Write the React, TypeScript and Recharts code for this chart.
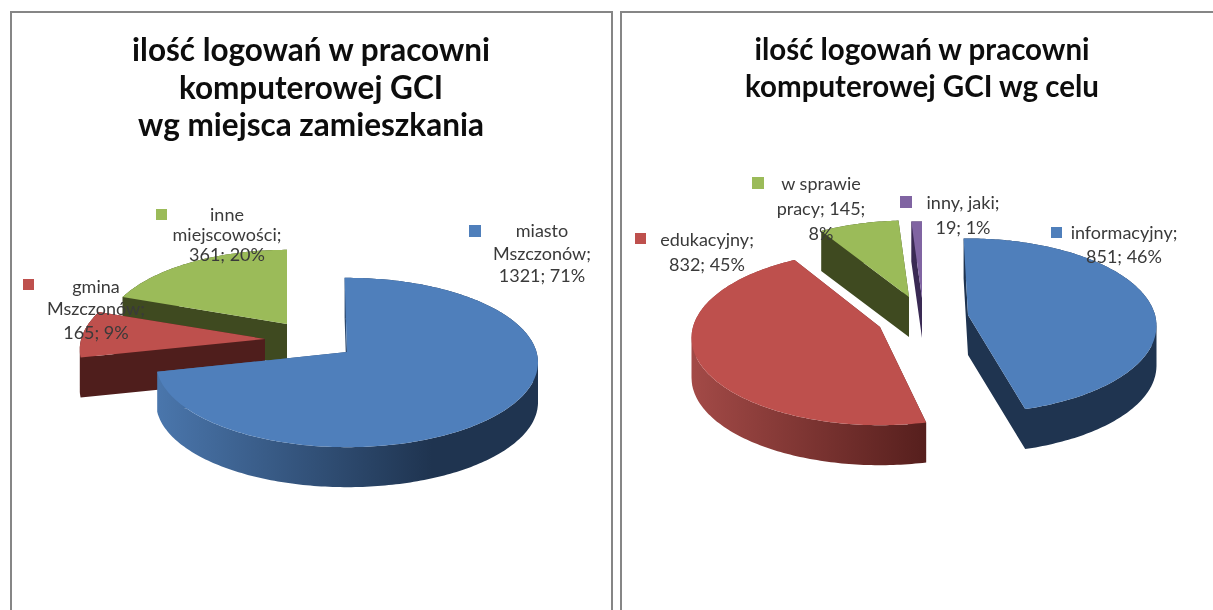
import { PieChart, Pie } from "recharts";

// both pies are drawn counter-clockwise from 12 o'clock so the back slices paint first
const miejsceNazwy = ["inne miejscowości", "gmina Mszczonów", "miasto Mszczonów"];
const miejsceWartosci = [361, 165, 1321];
const miejsceEtykiety = [
  ["inne", "miejscowości;", "361; 20%"],
  ["gmina", "Mszczonów;", "165; 9%"],
  ["miasto", "Mszczonów;", "1321; 71%"],
];

const celNazwy = ["inny, jaki", "w sprawie pracy", "edukacyjny", "informacyjny"];
const celWartosci = [19, 145, 832, 851];
const celEtykiety = [
  ["inny, jaki;", "19; 1%"],
  ["w sprawie", "pracy; 145;", "8%"],
  ["edukacyjny;", "832; 45%"],
  ["informacyjny;", "851; 46%"],
];

const tytulLewy = ["ilość logowań w pracowni", "komputerowej GCI", "wg miejsca zamieszkania"];
const tytulPrawy = ["ilość logowań w pracowni", "komputerowej GCI wg celu"];

const BLUE = { top: "#4f7fbb", light: "#4a76ac", dark: "#1f3450", stop: 0.72 };
const BLUE_DARK = { top: "#4f7fbb", light: "#1f3450", dark: "#1f3450", stop: 1 };
const RED = { top: "#be504d", light: "#4f1e1c", dark: "#4f1e1c", stop: 1 };
const RED_SHADED = { top: "#be504d", light: "#a34a47", dark: "#561f1d", stop: 1 };
const GREEN = { top: "#9bbb59", light: "#3f4a20", dark: "#3f4a20", stop: 1 };
const PURPLE = { top: "#8064a2", light: "#3a2a54", dark: "#3a2a54", stop: 1 };

const FONT = "Lato, 'Open Sans', sans-serif";
const TEXT = "#3a3a3a";

type Slice = { style: typeof BLUE; dx: number; dy: number; scale: number; turn: number; swatch: number[]; textX: number; lineY: number[] };

const leftLayout: Slice[] = [
  { style: GREEN, dx: -60, dy: -28, scale: 0.96, turn: 0, swatch: [156, 209, 11], textX: 227, lineY: [215, 235, 255] },
  { style: RED, dx: -82, dy: -13, scale: 0.97, turn: 0, swatch: [23, 279, 11], textX: 96, lineY: [287, 309, 333] },
  { style: BLUE, dx: 0, dy: 0, scale: 1, turn: 0.8, swatch: [469, 225, 12], textX: 542, lineY: [231, 254, 276] },
];
// x values are local to the right chart, which starts at 616
const rightLayout: Slice[] = [
  { style: PURPLE, dx: -46, dy: -17, scale: 1, turn: 0, swatch: [284, 196, 12], textX: 347, lineY: [203, 228] },
  { style: GREEN, dx: -59, dy: -18, scale: 0.98, turn: 0, swatch: [136, 177, 12], textX: 205, lineY: [184, 209, 234] },
  { style: RED_SHADED, dx: -88, dy: 12, scale: 1, turn: -1.6, swatch: [19, 233, 11], textX: 91, lineY: [240, 265] },
  { style: BLUE_DARK, dx: 0, dy: 0, scale: 1, turn: 1.5, swatch: [435, 227, 11], textX: 508, lineY: [233, 257] },
];

const DEPTH = 40;
const PERSPECTIVE = 0.124;

function sectorPaths(p: any, layout: Slice, squash: number) {
  const ax = p.cx + layout.dx;
  const ay = p.cy + layout.dy;
  const R = p.outerRadius * layout.scale;
  const H = p.outerRadius * squash;
  const project = (deg: number) => {
    const theta = ((90 - deg) * Math.PI) / 180;
    const s = Math.sin(theta);
    const c = Math.cos(theta);
    const w = 1 + PERSPECTIVE * c;
    return [ax + (R * s) / w, ay - (H * c) / w];
  };
  const a0 = p.startAngle + layout.turn;
  const a1 = p.endAngle + layout.turn;
  const steps = Math.max(2, Math.ceil(Math.abs(a1 - a0)));
  const pts: number[][] = [[ax, ay]];
  for (let i = 0; i <= steps; i++) pts.push(project(a0 + ((a1 - a0) * i) / steps));

  const top = "M" + pts.map((q) => q[0].toFixed(1) + "," + q[1].toFixed(1)).join("L") + "Z";
  // side wall: every outline edge swept down, all quads wound the same way
  let wall = "";
  pts.forEach((q, i) => {
    const n = pts[(i + 1) % pts.length];
    const cross = (n[0] - q[0]) * DEPTH;
    const quad = cross >= 0
      ? [q, n, [n[0], n[1] + DEPTH], [q[0], q[1] + DEPTH]]
      : [n, q, [q[0], q[1] + DEPTH], [n[0], n[1] + DEPTH]];
    wall += "M" + quad.map((v) => v[0].toFixed(1) + "," + v[1].toFixed(1)).join("L") + "Z";
  });
  return { top, wall };
}

function Chart({ names, values, labels, layout, left, width, cx, cy, radius, squash, id }: any) {
  const rows = names.map((nazwa: string, i: number) => ({ nazwa, wartosc: values[i] }));

  const renderSlice = (p: any) => {
    const i = names.indexOf(p.nazwa ?? p.payload?.nazwa);
    const l: Slice = layout[i];
    const gid = id + "-wall-" + i;
    const { top, wall } = sectorPaths(p, l, squash);
    return (
      <g>
        <defs>
          <linearGradient id={gid} x1="0" y1="0" x2="1" y2="0">
            <stop offset="0" stopColor={l.style.light} />
            <stop offset={l.style.stop} stopColor={l.style.dark} />
          </linearGradient>
        </defs>
        <path d={wall} fill={`url(#${gid})`} />
        <path d={top} fill={l.style.top} />
      </g>
    );
  };

  const renderLabel = (p: any) => {
    const i = p.index;
    const l: Slice = layout[i];
    return (
      <g key={i}>
        <rect x={l.swatch[0]} y={l.swatch[1]} width={l.swatch[2]} height={l.swatch[2]} fill={l.style.top} />
        {labels[i].map((line: string, j: number) => (
          <text key={j} x={l.textX} y={l.lineY[j] + 6} textAnchor="middle" fontFamily={FONT} fontSize={18} fill={TEXT}>
            {line}
          </text>
        ))}
      </g>
    );
  };

  return (
    <div style={{ position: "absolute", left, top: 0 }}>
      <PieChart width={width} height={610} margin={{ top: 0, right: 0, bottom: 0, left: 0 }}>
        <Pie
          data={rows}
          dataKey="wartosc"
          nameKey="nazwa"
          cx={cx}
          cy={cy}
          innerRadius={0}
          outerRadius={radius}
          startAngle={90}
          endAngle={450}
          stroke="none"
          shape={renderSlice}
          label={renderLabel}
          labelLine={false}
          isAnimationActive={false}
        />
      </PieChart>
    </div>
  );
}

function Title({ lines, center, size, tops }: any) {
  return (
    <>
      {lines.map((line: string, i: number) => (
        <div
          key={i}
          style={{
            position: "absolute",
            left: center - 300,
            width: 600,
            top: tops[i] - 20,
            height: 40,
            lineHeight: "40px",
            textAlign: "center",
            fontFamily: FONT,
            fontWeight: 700,
            fontSize: size,
            color: "#0d0d0d",
          }}
        >
          {line}
        </div>
      ))}
    </>
  );
}

export default function App() {
  return (
    <div style={{ position: "absolute", left: 0, top: 0, width: 1213, height: 610, overflow: "hidden", background: "#fff", filter: "blur(0.4px)" }}>
      <div style={{ position: "absolute", left: 10, top: 11, width: 599, height: 640, border: "2px solid #868686" }} />
      <div style={{ position: "absolute", left: 620, top: 11, width: 640, height: 640, border: "2px solid #868686" }} />
      <Title lines={tytulLewy} center={311} size={31.5} tops={[49, 87, 124]} />
      <Title lines={tytulPrawy} center={922} size={29.5} tops={[49, 86]} />
      <Chart id="miejsce" names={miejsceNazwy} values={miejsceWartosci} labels={miejsceEtykiety} layout={leftLayout} left={0} width={616} cx={347} cy={352} radius={189.5} squash={0.44} />
      <Chart id="cel" names={celNazwy} values={celWartosci} labels={celEtykiety} layout={rightLayout} left={616} width={597} cx={352} cy={315} radius={187} squash={0.46} />
    </div>
  );
}
